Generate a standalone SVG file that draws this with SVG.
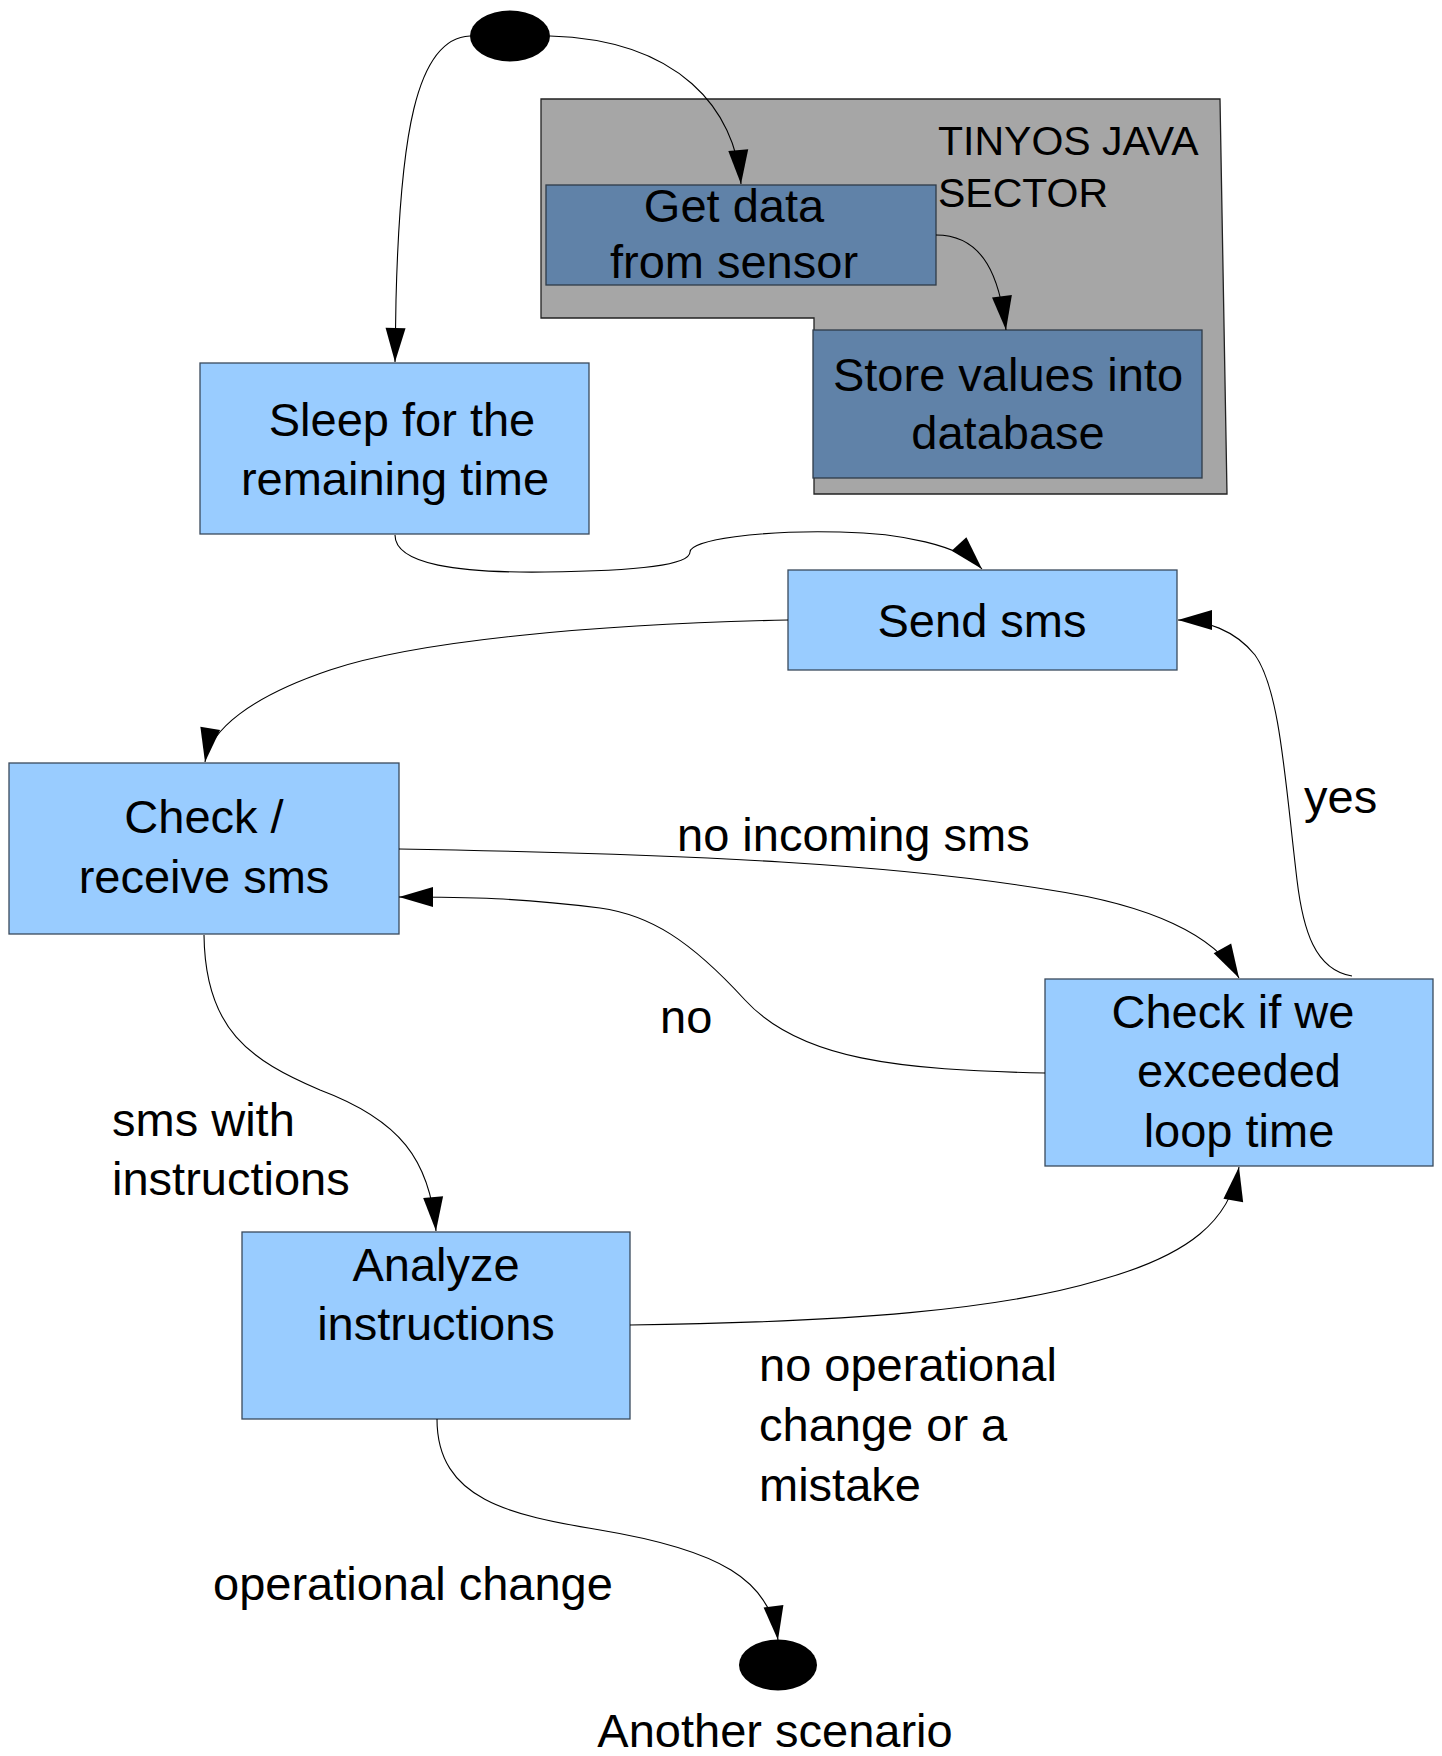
<svg xmlns="http://www.w3.org/2000/svg" width="1442" height="1756" viewBox="0 0 1442 1756">
<style>
text{font-family:"Liberation Sans",Arial,sans-serif;font-size:47px;fill:#000}
.c{text-anchor:middle}
.box{fill:#99ccff;stroke:#3a4a5c;stroke-width:1.3}
.dbox{fill:#6082a8;stroke:#2f3b48;stroke-width:1.3}
.conn path{fill:none;stroke:#000;stroke-width:1.1}
</style>
<defs>
<marker id="ah" markerUnits="userSpaceOnUse" markerWidth="36" markerHeight="22" refX="34" refY="10" orient="auto" overflow="visible">
<path d="M0,0 L34,10 L0,20 z" fill="#000"/>
</marker>
</defs>
<rect width="1442" height="1756" fill="#fff"/>
<g id="sector">
<polygon points="541,99 1220,99 1227,494 814,494 814,318 541,318" fill="#a6a6a6" stroke="#222" stroke-width="1.3"/>
<text x="938" y="155" style="font-size:41px">TINYOS JAVA</text>
<text x="938" y="207" style="font-size:41px">SECTOR</text>
</g>
<g id="start"><ellipse cx="510" cy="36" rx="40" ry="25.5" fill="#000"/></g>
<g id="getdata">
<rect class="dbox" x="546" y="185" width="390" height="100"/>
<text class="c" x="734" y="222">Get data</text>
<text class="c" x="734" y="278">from sensor</text>
</g>
<g id="store">
<rect class="dbox" x="813" y="330" width="389" height="148"/>
<text class="c" x="1008" y="391">Store values into</text>
<text class="c" x="1008" y="449">database</text>
</g>
<g id="sleep">
<rect class="box" x="200" y="363" width="389" height="171"/>
<text class="c" x="402" y="436">Sleep for the</text>
<text class="c" x="395" y="495">remaining time</text>
</g>
<g id="sendsms">
<rect class="box" x="788" y="570" width="389" height="100"/>
<text class="c" x="982" y="637">Send sms</text>
</g>
<g id="checkreceive">
<rect class="box" x="9" y="763" width="390" height="171"/>
<text class="c" x="204" y="833">Check /</text>
<text class="c" x="204" y="893">receive sms</text>
</g>
<g id="checkloop">
<rect class="box" x="1045" y="979" width="388" height="187"/>
<text class="c" x="1233" y="1028">Check if we</text>
<text class="c" x="1239" y="1087">exceeded</text>
<text class="c" x="1239" y="1147">loop time</text>
</g>
<g id="analyze">
<rect class="box" x="242" y="1232" width="388" height="187"/>
<text class="c" x="436" y="1281">Analyze</text>
<text class="c" x="436" y="1340">instructions</text>
</g>
<g id="end">
<ellipse cx="778" cy="1665" rx="39" ry="25.5" fill="#000"/>
<text class="c" x="775" y="1747">Another scenario</text>
</g>
<g class="conn" id="connectors">
<path marker-end="url(#ah)" d="M470,36 C415,38 400,140 396,300 L395,362"/>
<path marker-end="url(#ah)" d="M550,36 C680,40 735,110 741,184"/>
<path marker-end="url(#ah)" d="M936,235 C985,235 1000,280 1006,330"/>
<path marker-end="url(#ah)" d="M395,535 C395,565 460,573 545,572 C640,571 690,565 690,552 C690,540 760,530 840,532 C900,533 960,545 982,569"/>
<path marker-end="url(#ah)" d="M788,620 C600,624 420,640 330,670 C250,697 210,730 205,762"/>
<path marker-end="url(#ah)" d="M399,849 C700,854 900,865 1050,890 C1150,905 1215,935 1239,978"/>
<path marker-end="url(#ah)" d="M1045,1073 C900,1070 800,1060 745,1000 C690,940 650,915 600,908 C520,898 470,897 399,897"/>
<path marker-end="url(#ah)" d="M1352,976 C1315,970 1303,930 1297,880 C1285,780 1280,690 1255,655 C1235,630 1205,620 1178,620"/>
<path marker-end="url(#ah)" d="M204,935 C205,1030 250,1060 320,1090 C400,1120 430,1160 436,1231"/>
<path marker-end="url(#ah)" d="M630,1325 C850,1322 1000,1310 1100,1280 C1190,1255 1230,1220 1239,1167"/>
<path marker-end="url(#ah)" d="M437,1419 C437,1500 510,1515 600,1530 C720,1550 770,1580 778,1640"/>
</g>
<g id="labels">
<text x="677" y="851">no incoming sms</text>
<text x="1304" y="813">yes</text>
<text x="660" y="1033">no</text>
<text x="112" y="1136">sms with</text>
<text x="112" y="1195">instructions</text>
<text x="759" y="1381">no operational</text>
<text x="759" y="1441">change or a</text>
<text x="759" y="1501">mistake</text>
<text x="213" y="1600">operational change</text>
</g>
</svg>
